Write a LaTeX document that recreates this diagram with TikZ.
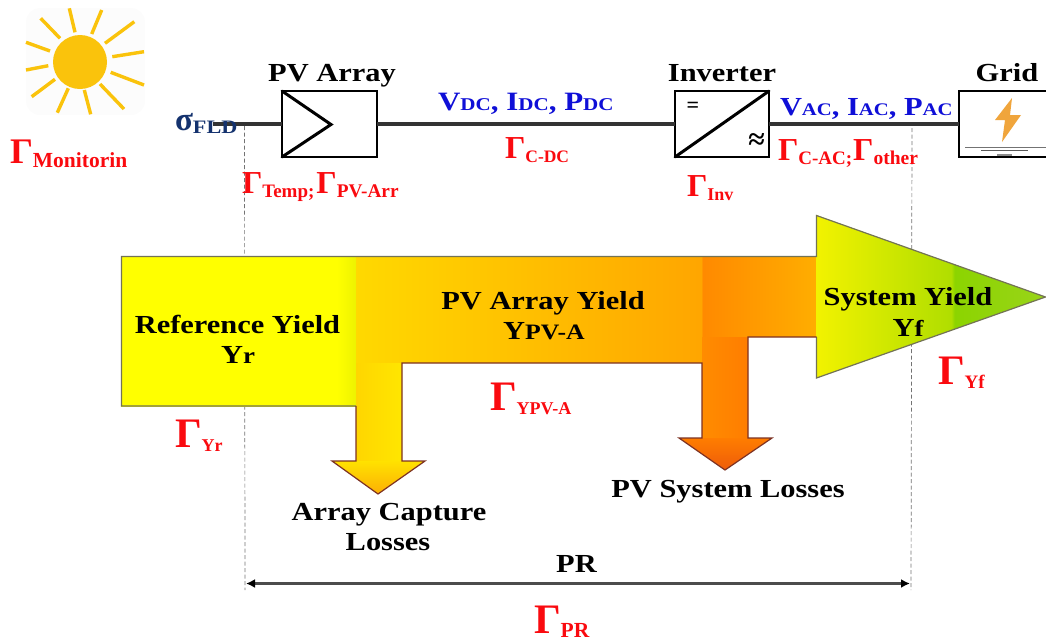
\documentclass[tikz,border=0pt]{standalone}
\usepackage{fontspec}
\setmainfont{Liberation Serif}
\newfontfamily\lab[FakeStretch=1.17]{Liberation Serif}
\usetikzlibrary{arrows.meta}
\newcommand\LF[1]{\fontsize{#1}{#1}\selectfont}
\newcommand\Gm[3]{{\LF{#1}Γ}\raisebox{-4pt}{\LF{#2}#3}}
\definecolor{gred}{RGB}{250,10,15}
\definecolor{vblue}{RGB}{15,15,215}
\definecolor{navy}{RGB}{20,50,110}
\definecolor{sunc}{RGB}{250,195,12}
\definecolor{edgeg}{RGB}{115,115,85}
\definecolor{edger}{RGB}{125,50,35}
\definecolor{boltc}{RGB}{240,165,60}
\pgfdeclarehorizontalshading{rectS}{100bp}{rgb(0bp)=(1,1,0); rgb(25bp)=(1,1,0); rgb(71bp)=(1,1,0); rgb(75bp)=(.93,.95,0); rgb(100bp)=(.93,.95,0)}
\pgfdeclarehorizontalshading{bandS}{100bp}{rgb(0bp)=(1,.85,0); rgb(25bp)=(1,.85,0); rgb(62.5bp)=(1,.65,0); rgb(62.7bp)=(1,.54,0); rgb(75bp)=(1,.68,0); rgb(100bp)=(1,.68,0)}
\pgfdeclarehorizontalshading{triS}{100bp}{rgb(0bp)=(.95,.95,0); rgb(25bp)=(.95,.95,0); rgb(54.5bp)=(.69,.87,0); rgb(55.2bp)=(.55,.83,0); rgb(75bp)=(.6,.83,.1); rgb(100bp)=(.6,.83,.1)}
\tikzset{
  txt/.style={inner sep=0pt,outer sep=0pt,anchor=base west,font=\bfseries},
  ctxt/.style={inner sep=0pt,outer sep=0pt,anchor=base,font=\lab\bfseries\LF{26},align=center},
  gam/.style={txt,text=gred},
  wire/.style={draw=black!80,line width=3.4pt},
  block/.style={draw=black,line width=2pt,fill=white,inner sep=0pt,outer sep=0pt,minimum height=66pt},
  dim/.style={draw=black!55,line width=.7pt,dash pattern=on 4pt off 2.5pt},
  ray/.style={draw=sunc,line width=3.4pt},
  thick2/.style={line width=3pt,draw=black,line cap=round},
  edgeg2/.style={draw=edgeg,line width=1.2pt},
  edger2/.style={draw=edger,line width=1.2pt,line join=miter},
}
\begin{document}
\begin{tikzpicture}[x=1pt,y=-1pt]
\useasboundingbox (0,0) rectangle (1046,641);
% sun
\fill[black!1,rounded corners=14pt] (26,8) rectangle (145,115);
\foreach \a/\b/\c/\d in {69.3/8.3/75/32.3,101.7/10/91.7/34,134.3/21.7/105/43.3,144/51.7/112.3/56.7,144/85/110.7/72.3,124/109/100/84,90.7/114.3/84.3/90,57.3/112.7/68.3/88.3,31.7/96.7/55/79.3,26/70/48.3/65.7,26/42.3/50/51,40.7/18.3/60/38.3}
  \draw[ray] (\a,\b) -- (\c,\d);
\fill[sunc] (80,62) circle (27);
% dashed guides
\coordinate (gl1) at (244.5,126); \coordinate (gl2) at (245,590);
\coordinate (gr1) at (912,128); \coordinate (gr2) at (911,590);
\draw[dim] (gl1) -- (gl2);
\draw[dim] (gr1) -- (gr2);
% blocks
\node[block,minimum width=95pt] (pv) at (329.5,124) {};
\node[block,minimum width=94pt] (inv) at (722,124) {};
\node[block,minimum width=90pt] (grid) at (1004,124) {};
\coordinate (wst) at (213,124);
\draw[wire] (wst) -- (pv.west);
\draw[wire] (pv.east) -- (inv.west);
\draw[wire] (inv.east) -- (grid.west);
\draw[thick2,line join=miter] (pv.north west) -- (331,124.5) -- (pv.south west);
\draw[thick2] (inv.south west) -- (inv.north east);
\node[inner sep=0pt,font=\bfseries\LF{22}] (eq) at (693,107) {=};
\node[inner sep=0pt,font=\bfseries\LF{30}] (apx) at (756.5,142) {≈};
% grid contents
\fill[boltc] (1012,98) -- (995,120) -- (1005,120) -- (1002,142) -- (1021,115) -- (1010,115) -- cycle;
\draw[black!55,line width=.9pt] (965,147) -- (1046,147);
\draw[black!65,line width=.9pt] (981,150.5) -- (1028,150.5);
\draw[black!45,line width=1.6pt] (997,155) -- (1012,155);
% big arrow fills
\shade[shading=rectS] (121,256) rectangle (356,406);
\shade[shading=bandS] (356,256) -- (816,256) -- (816,337) -- (748,337) -- (702,363) -- (356,363) -- cycle;
\shade[left color={rgb,255:red,255;green,214;blue,0},right color={rgb,255:red,255;green,230;blue,0}] (356,363) rectangle (402,461);
\shade[top color={rgb,255:red,255;green,226;blue,0},bottom color={rgb,255:red,252;green,175;blue,5}] (332,461) -- (425,461) -- (378,494) -- cycle;
\shade[left color={rgb,255:red,255;green,140;blue,0},right color={rgb,255:red,255;green,125;blue,0}] (702,337) rectangle (748,438);
\shade[top color={rgb,255:red,255;green,125;blue,0},bottom color={rgb,255:red,238;green,92;blue,10}] (679,438) -- (772,438) -- (725,470) -- cycle;
\shade[shading=triS] (816,215) -- (1045.5,297) -- (816,378) -- cycle;
% big arrow outline
\draw[edgeg2] (356,406) -- (121.5,406) -- (121.5,256.5) -- (816.5,256.5) -- (816.5,215.5) -- (1045.5,297) -- (816.5,378) -- (816.5,337);
\draw[edger2] (356,406) -- (356,461) -- (332,461) -- (378,494) -- (425,461) -- (402,461) -- (402,363) -- (702,363) -- (702,438) -- (679,438) -- (725,470) -- (772,438) -- (748,438) -- (748,337) -- (816.5,337);
% PR dimension
\coordinate (pra) at (246,583.5); \coordinate (prb) at (910,583.5);
\draw[black!70,line width=2.2pt,{Latex[length=9pt,width=9pt,black]}-{Latex[length=9pt,width=9pt,black]}] (pra) -- (prb);
% black labels
\node[ctxt] (tpv) at (332,81) {PV Array};
\node[ctxt] (tinv) at (722,81) {Inverter};
\node[ctxt] (tgrid) at (1007,81) {Grid};
\node[ctxt] (tref) at (237.5,333) {Reference Yield};
\node[ctxt] (tyr) at (238,363) {Y{\LF{23}r}};
\node[ctxt] (tarr) at (543,309) {PV Array Yield};
\node[ctxt] (typv) at (544,339) {Y{\LF{22}PV-A}};
\node[ctxt] (tsys) at (908,305) {System Yield};
\node[ctxt] (tyf) at (908,336) {Y{\LF{23}f}};
\node[ctxt] (tpvl) at (728,497) {PV System Losses};
\node[ctxt] (tacl) at (389,520) {Array Capture};
\node[ctxt] (tlos) at (388,550) {Losses};
\node[ctxt] (tpr) at (576.5,572) {PR};
% blue labels
\node[txt,text=vblue,font=\lab\bfseries\LF{26.5}] (tdc) at (438,110) {V{\LF{18}DC}, I{\LF{18}DC}, P{\LF{18}DC}};
\node[txt,text=vblue,font=\lab\bfseries\LF{26}] (tac) at (780,115) {V{\LF{17.7}AC}, I{\LF{17.7}AC}, P{\LF{17.7}AC}};
% sigma
\node[txt,text=navy] (tsig) at (175,130) {{\LF{33}σ}\raisebox{-3pt}{\lab\LF{19}FLD}};
% red labels
\node[gam] (gmon) at (10,163) {\Gm{36}{21.5}{Monitorin}};
\node[gam] (gtmp) at (242,193) {\Gm{32}{19}{Temp;}\hspace{2pt}\Gm{32}{19.3}{PV-Arr}};
\node[gam] (gcdc) at (505,158) {\Gm{32}{17.5}{C-DC}};
\node[gam] (ginv) at (687,196) {\Gm{32}{18}{Inv}};
\node[gam] (gcac) at (778,160) {\Gm{32}{19}{C-AC;}\hspace{1pt}\Gm{32}{19.5}{other}};
\node[gam] (gyr) at (175,447) {\Gm{42}{18}{Yr}};
\node[gam] (gypv) at (490,410) {\Gm{42}{18}{YPV-A}};
\node[gam] (gyf) at (938,384) {\Gm{42}{19}{Yf}};
\node[gam] (gpr) at (534,633) {\Gm{42}{21.5}{PR}};
\end{tikzpicture}
\end{document}
